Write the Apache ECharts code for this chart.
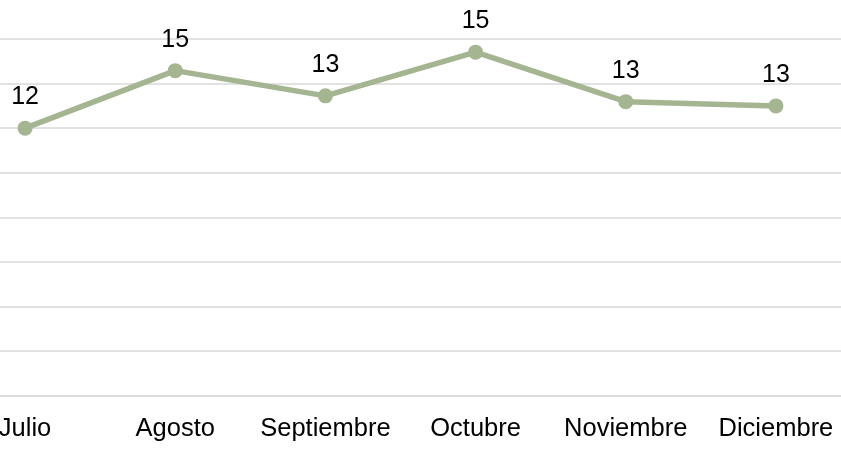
<!DOCTYPE html>
<html><head><meta charset="utf-8">
<script src="https://cdn.jsdelivr.net/npm/echarts@6/dist/echarts.min.js"></script>
<style>html,body{margin:0;padding:0;background:#fff;overflow:hidden;width:841px;height:449px;position:relative}
#c{position:absolute;left:-50px;top:0;width:902px;height:449px}</style>
</head><body><div id="c"></div>
<script>
const categories = ['Julio','Agosto','Septiembre','Octubre','Noviembre','Diciembre'];
const values = [12.0, 14.58, 13.45, 15.41, 13.19, 13.0];
const yMin = 0, yMax = 16, yInterval = 2;

const chart = echarts.init(document.getElementById('c'), null, {renderer:'canvas'});
chart.setOption({
  animation: false,
  backgroundColor: '#fff',
  grid: { left: 0, right: 1, top: 39, bottom: 53.3, containLabel: false },
  xAxis: {
    type: 'category', data: categories, boundaryGap: true,
    axisLine: { show: true, lineStyle: { color: '#d9d9d9', width: 1.5 } },
    axisTick: { show: false },
    axisLabel: { color: '#000', fontFamily: 'Liberation Sans, Arial, sans-serif', fontSize: 25.5, margin: 20, interval: 0 }
  },
  yAxis: {
    type: 'value', min: yMin, max: yMax, interval: yInterval,
    axisLabel: { show: false }, axisLine: { show: false }, axisTick: { show: false },
    splitLine: { lineStyle: { color: '#d9d9d9', width: 1.5 } }
  },
  series: [{
    type: 'line', data: values,
    lineStyle: { color: '#a5b592', width: 5.5 },
    itemStyle: { color: '#a5b592' },
    symbol: 'circle', symbolSize: 15,
    label: {
      show: true, position: 'top', distance: 11,
      color: '#000', fontFamily: 'Liberation Sans, Arial, sans-serif', fontSize: 25,
      formatter: p => Math.round(p.value)
    }
  }]
});
</script></body></html>
